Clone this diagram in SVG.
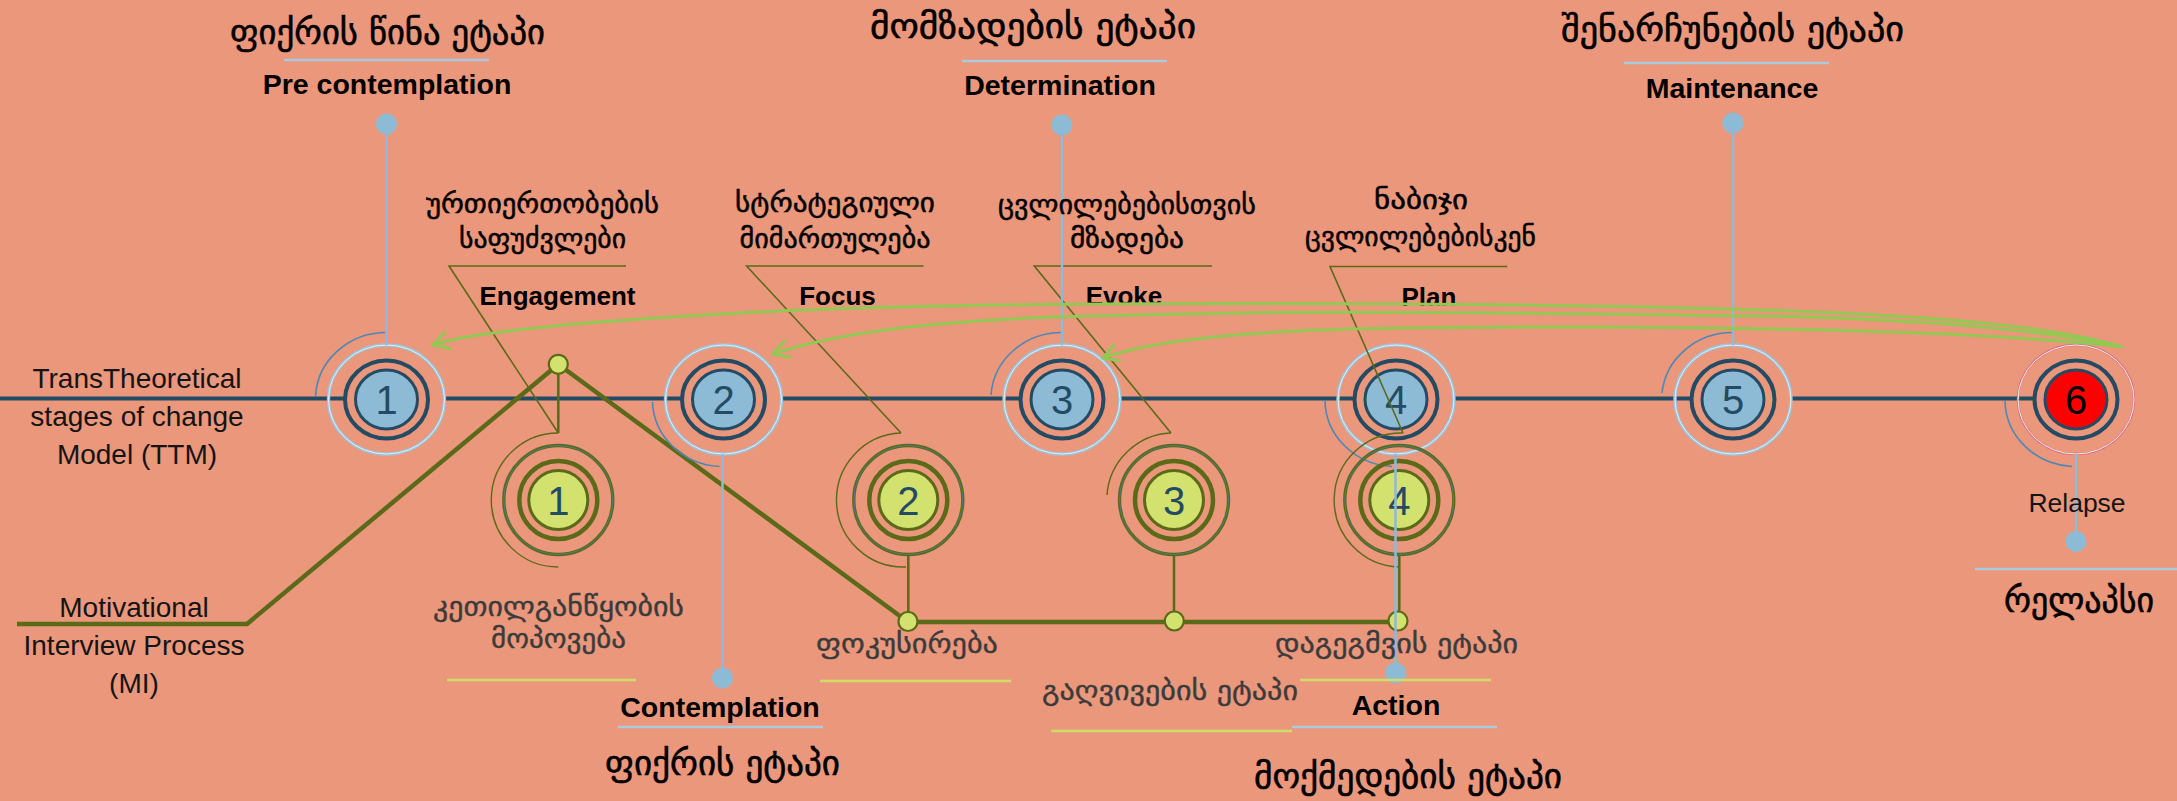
<svg xmlns="http://www.w3.org/2000/svg" width="2177" height="801" viewBox="0 0 2177 801">
<defs>
<style>
.bg{fill:#eb977b}
.ttm-line{stroke:#244b64;stroke-width:4;fill:none}
.mi-line{stroke:#5b6a19;stroke-width:4.5;fill:none;stroke-linejoin:round}
.mi-stub{stroke:#5b6a19;stroke-width:2.5;fill:none}
.callout{stroke:#5b6a19;stroke-width:1.6;fill:none}
.outer{fill:none;stroke:#9cc3da;stroke-width:3.4}
.outer-r{fill:none;stroke:#e0707c;stroke-width:2.4}
.outer-hl{fill:none;stroke:#e6eef2;stroke-width:1}
.ring{fill:none;stroke:#244b64;stroke-width:4}
.core{fill:#8dbbd6;stroke:#244b64;stroke-width:3}
.core-r{fill:#ff0000;stroke:#244b64;stroke-width:3}
.arc-b{fill:none;stroke:#4a88b8;stroke-width:1.6}
.mi-outer{fill:none;stroke:#5b6a19;stroke-width:3.4}
.mi-outer-hl{fill:none;stroke:#4f7a86;stroke-width:1}
.mi-ring{fill:none;stroke:#5b6a19;stroke-width:4.5}
.mi-core{fill:#d3e16f;stroke:#5b6a19;stroke-width:3}
.arc-o{fill:none;stroke:#5b6a19;stroke-width:1.4}
.node{fill:#d3e16f;stroke:#5b6a19;stroke-width:2.2}
.conn{stroke:#8dbbd6;stroke-width:2.5;fill:none}
.dot{fill:#8dbbd6}
.sep-b{stroke:#a9cadf;stroke-width:2.5}
.sep-y{stroke:#cfdd68;stroke-width:2.5}
.num{font-family:'Liberation Sans',sans-serif;font-size:40px;fill:#244b64;text-anchor:middle}
.num6{font-family:'Liberation Sans',sans-serif;font-size:40px;fill:#000;text-anchor:middle}
.en-b{font-family:'Liberation Sans',sans-serif;font-weight:bold;font-size:28.5px;fill:#000;text-anchor:middle}
.en-m{font-family:'Liberation Sans',sans-serif;font-weight:bold;font-size:26px;fill:#000;text-anchor:middle}
.en{font-family:'Liberation Sans',sans-serif;font-size:28px;fill:#141414;text-anchor:middle}
.ka-t{font-family:'DejaVu Sans',sans-serif;font-size:35px;fill:#000;stroke:#000;stroke-width:0.6;text-anchor:middle}
.ka-m{font-family:'DejaVu Sans',sans-serif;font-size:28px;fill:#000;stroke:#000;stroke-width:0.5;text-anchor:middle}
.ka-g{font-family:'DejaVu Sans',sans-serif;font-size:28px;fill:#3b3b3b;stroke:#3b3b3b;stroke-width:0.4;text-anchor:middle}
.arrow{fill:none;stroke:#92c853;stroke-width:3}
</style>
<marker id="ah" markerUnits="userSpaceOnUse" markerWidth="22" markerHeight="22" viewBox="0 0 22 22" refX="20" refY="11" orient="auto">
<path d="M4,2 L20,11 L4,20" fill="none" stroke="#92c853" stroke-width="3"/>
</marker>
</defs>
<rect class="bg" x="0" y="0" width="2177" height="801"/>

<g id="connectors">
<g id="ttm-line">
<line class="ttm-line" x1="0" y1="398.5" x2="346" y2="398.5"/>
<line class="ttm-line" x1="445" y1="398.5" x2="682" y2="398.5"/>
<line class="ttm-line" x1="781.5" y1="398.5" x2="1021" y2="398.5"/>
<line class="ttm-line" x1="1120" y1="398.5" x2="1355" y2="398.5"/>
<line class="ttm-line" x1="1454" y1="398.5" x2="1692" y2="398.5"/>
<line class="ttm-line" x1="1791" y1="398.5" x2="2035" y2="398.5"/>
</g>
<g id="mi-line">
<path class="mi-line" d="M17,624 L247,624 L558.3,364.3 L908,622 L1398,622"/>
<line class="mi-stub" x1="558.3" y1="364" x2="558.3" y2="433"/>
<line class="mi-stub" x1="908.3" y1="555" x2="908.3" y2="622"/>
<line class="mi-stub" x1="1174" y1="555" x2="1174" y2="622"/>
<line class="mi-stub" x1="1399.3" y1="555" x2="1399.3" y2="622"/>
</g>
</g>

<g id="ttm1">
<ellipse class="outer" cx="386.5" cy="399.5" rx="58" ry="54.5"/><ellipse class="outer-hl" cx="386.5" cy="399.5" rx="58" ry="54.5"/>
<ellipse class="ring" cx="386.5" cy="399.5" rx="41.5" ry="39"/>
<ellipse class="core" cx="386.5" cy="399.5" rx="31" ry="29.5"/>
<path class="arc-b" d="M315.5,396 A71,67 0 0 1 386.5,332.5"/>
<text class="num" x="386.5" y="414">1</text>
</g>
<g id="ttm2">
<ellipse class="outer" cx="723.5" cy="399.5" rx="58" ry="54.5"/><ellipse class="outer-hl" cx="723.5" cy="399.5" rx="58" ry="54.5"/>
<ellipse class="ring" cx="723.5" cy="399.5" rx="41.5" ry="39"/>
<ellipse class="core" cx="723.5" cy="399.5" rx="31" ry="29.5"/>
<path class="arc-b" d="M652.5,402 A71,67 0 0 0 719.5,466.5"/>
<text class="num" x="723.5" y="414">2</text>
</g>
<g id="ttm3">
<ellipse class="outer" cx="1062" cy="399.5" rx="58" ry="54.5"/><ellipse class="outer-hl" cx="1062" cy="399.5" rx="58" ry="54.5"/>
<ellipse class="ring" cx="1062" cy="399.5" rx="41.5" ry="39"/>
<ellipse class="core" cx="1062" cy="399.5" rx="31" ry="29.5"/>
<path class="arc-b" d="M991,395 A71,67 0 0 1 1062,332.5"/>
<text class="num" x="1062" y="414">3</text>
</g>
<g id="ttm4">
<ellipse class="outer" cx="1396" cy="399.5" rx="58" ry="54.5"/><ellipse class="outer-hl" cx="1396" cy="399.5" rx="58" ry="54.5"/>
<ellipse class="ring" cx="1396" cy="399.5" rx="41.5" ry="39"/>
<ellipse class="core" cx="1396" cy="399.5" rx="31" ry="29.5"/>
<path class="arc-b" d="M1325,400 A71,67 0 0 0 1392,466.5"/>
<text class="num" x="1396" y="414">4</text>
</g>
<g id="ttm5">
<ellipse class="outer" cx="1733" cy="399.5" rx="58" ry="54.5"/><ellipse class="outer-hl" cx="1733" cy="399.5" rx="58" ry="54.5"/>
<ellipse class="ring" cx="1733" cy="399.5" rx="41.5" ry="39"/>
<ellipse class="core" cx="1733" cy="399.5" rx="31" ry="29.5"/>
<path class="arc-b" d="M1662,393 A71,67 0 0 1 1733,332.5"/>
<text class="num" x="1733" y="414">5</text>
</g>
<g id="ttm6">
<ellipse class="outer-r" cx="2076" cy="399.5" rx="58" ry="54.5"/><ellipse class="outer-hl" cx="2076" cy="399.5" rx="58" ry="54.5"/>
<ellipse class="ring" cx="2076" cy="399.5" rx="41.5" ry="39"/>
<ellipse class="core-r" cx="2076" cy="399.5" rx="31" ry="29.5"/>
<path class="arc-b" d="M2005,401 A71,67 0 0 0 2072,466.5"/>
<text class="num6" x="2076" y="414">6</text>
</g>

<g id="callouts">
<path class="callout" d="M626,266 L449,266 L558.3,433"/>
<path class="callout" d="M923.5,266 L746.6,266 L901,433"/>
<path class="callout" d="M1212,266 L1034.3,266 L1171,433"/>
<path class="callout" d="M1507.3,266.5 L1330,266.5 L1403,433"/>
</g>

<g id="mi1">
<path class="arc-o" d="M558.3,433 A67,67 0 0 0 558.3,567"/>
<circle class="mi-outer" cx="558.3" cy="500" r="54.5"/><circle class="mi-outer-hl" cx="558.3" cy="500" r="54.5"/>
<circle class="mi-ring" cx="558.3" cy="500" r="39"/>
<circle class="mi-core" cx="558.3" cy="500" r="29.5"/>
<text class="num" x="558.3" y="515">1</text>
</g>
<g id="mi2">
<path class="arc-o" d="M901,433 A67,67 0 0 0 906,567"/>
<circle class="mi-outer" cx="908.3" cy="500" r="54.5"/><circle class="mi-outer-hl" cx="908.3" cy="500" r="54.5"/>
<circle class="mi-ring" cx="908.3" cy="500" r="39"/>
<circle class="mi-core" cx="908.3" cy="500" r="29.5"/>
<text class="num" x="908.3" y="515">2</text>
</g>
<g id="mi3">
<path class="arc-o" d="M1171,433 A67,67 0 0 0 1107,495"/>
<circle class="mi-outer" cx="1174" cy="500" r="54.5"/><circle class="mi-outer-hl" cx="1174" cy="500" r="54.5"/>
<circle class="mi-ring" cx="1174" cy="500" r="39"/>
<circle class="mi-core" cx="1174" cy="500" r="29.5"/>
<text class="num" x="1174" y="515">3</text>
</g>
<g id="mi4">
<path class="arc-o" d="M1403,433 A67,67 0 0 0 1399.3,567"/>
<circle class="mi-outer" cx="1399.3" cy="500" r="54.5"/><circle class="mi-outer-hl" cx="1399.3" cy="500" r="54.5"/>
<circle class="mi-ring" cx="1399.3" cy="500" r="39"/>
<circle class="mi-core" cx="1399.3" cy="500" r="29.5"/>
<text class="num" x="1399.3" y="515">4</text>
</g>

<g id="mi-nodes">
<circle class="node" cx="558.3" cy="364.3" r="9.5"/>
<circle class="node" cx="908" cy="621.5" r="9.5"/>
<circle class="node" cx="1174.3" cy="621" r="9.5"/>
<circle class="node" cx="1398" cy="621" r="9.5"/>
</g>

<g id="stage-links">
<line class="conn" x1="386.5" y1="124" x2="386.5" y2="345"/><circle class="dot" cx="386.5" cy="124" r="10.5"/>
<line class="conn" x1="1062" y1="125" x2="1062" y2="345"/><circle class="dot" cx="1062" cy="125" r="10.5"/>
<line class="conn" x1="1733" y1="123" x2="1733" y2="345"/><circle class="dot" cx="1733" cy="123" r="10.5"/>
<line class="conn" x1="722.5" y1="454" x2="722.5" y2="678"/><circle class="dot" cx="722.5" cy="678" r="10.5"/>
<line class="conn" x1="1395.5" y1="454" x2="1395.5" y2="673"/><circle class="dot" cx="1395.5" cy="673" r="10.5"/>
<line class="conn" x1="2076" y1="454" x2="2076" y2="541"/><circle class="dot" cx="2076" cy="541.5" r="10.5"/>
</g>

<g id="label-left">
<text class="en" x="137" y="388">TransTheoretical</text>
<text class="en" x="137" y="426">stages of change</text>
<text class="en" x="137" y="464">Model (TTM)</text>
<text class="en" x="134" y="617">Motivational</text>
<text class="en" x="134" y="655">Interview Process</text>
<text class="en" x="134" y="693">(MI)</text>
</g>

<g id="label-precontemplation">
<text class="ka-t" x="387.5" y="44" textLength="315" lengthAdjust="spacingAndGlyphs">ფიქრის წინა ეტაპი</text>
<line class="sep-b" x1="284" y1="60" x2="489" y2="60"/>
<text class="en-b" x="387" y="94">Pre contemplation</text>
</g>
<g id="label-determination">
<text class="ka-t" x="1033" y="38" textLength="326" lengthAdjust="spacingAndGlyphs">მომზადების  ეტაპი</text>
<line class="sep-b" x1="962" y1="61" x2="1167" y2="61"/>
<text class="en-b" x="1060" y="95">Determination</text>
</g>
<g id="label-maintenance">
<text class="ka-t" x="1732.5" y="41" textLength="343" lengthAdjust="spacingAndGlyphs">შენარჩუნების ეტაპი</text>
<line class="sep-b" x1="1624" y1="63" x2="1829" y2="63"/>
<text class="en-b" x="1732" y="98">Maintenance</text>
</g>
<g id="label-contemplation">
<text class="en-b" x="720" y="717">Contemplation</text>
<line class="sep-b" x1="618" y1="727" x2="823" y2="727"/>
<text class="ka-t" x="722.5" y="775" textLength="235" lengthAdjust="spacingAndGlyphs">ფიქრის ეტაპი</text>
</g>
<g id="label-action">
<text class="en-b" x="1396" y="715">Action</text>
<line class="sep-b" x1="1292" y1="727" x2="1497" y2="727"/>
<text class="ka-t" x="1408" y="788" textLength="308" lengthAdjust="spacingAndGlyphs">მოქმედების ეტაპი</text>
</g>
<g id="label-relapse">
<text class="en" x="2077" y="512" style="font-size:26.5px">Relapse</text>
<line class="sep-b" x1="1975" y1="569" x2="2177" y2="569"/>
<text class="ka-t" x="2079" y="612" textLength="150" lengthAdjust="spacingAndGlyphs">რელაპსი</text>
</g>

<g id="label-engagement">
<text class="ka-m" x="542.5" y="213" textLength="233" lengthAdjust="spacingAndGlyphs">ურთიერთობების</text>
<text class="ka-m" x="542.5" y="248" textLength="167" lengthAdjust="spacingAndGlyphs">საფუძვლები</text>
<text class="en-m" x="557.5" y="305">Engagement</text>
<text class="ka-g" x="558.5" y="616" textLength="251" lengthAdjust="spacingAndGlyphs">კეთილგანწყობის</text>
<text class="ka-g" x="558.5" y="648" textLength="135" lengthAdjust="spacingAndGlyphs">მოპოვება</text>
<line class="sep-y" x1="447" y1="680" x2="636" y2="680"/>
</g>
<g id="label-focus">
<text class="ka-m" x="835" y="212" textLength="200" lengthAdjust="spacingAndGlyphs">სტრატეგიული</text>
<text class="ka-m" x="835" y="248" textLength="191" lengthAdjust="spacingAndGlyphs">მიმართულება</text>
<text class="en-m" x="837.5" y="305">Focus</text>
<text class="ka-g" x="907" y="653" textLength="182" lengthAdjust="spacingAndGlyphs">ფოკუსირება</text>
<line class="sep-y" x1="820" y1="681" x2="1011" y2="681"/>
</g>
<g id="label-evoke">
<text class="ka-m" x="1127" y="214" textLength="258" lengthAdjust="spacingAndGlyphs">ცვლილებებისთვის</text>
<text class="ka-m" x="1127" y="248" textLength="114" lengthAdjust="spacingAndGlyphs">მზადება</text>
<text class="en-m" x="1124" y="305">Evoke</text>
<text class="ka-g" x="1170" y="700" textLength="256" lengthAdjust="spacingAndGlyphs">გაღვივების ეტაპი</text>
<line class="sep-y" x1="1051" y1="731" x2="1292" y2="731"/>
</g>
<g id="label-plan">
<text class="ka-m" x="1421" y="209" textLength="94" lengthAdjust="spacingAndGlyphs">ნაბიჯი</text>
<text class="ka-m" x="1420.5" y="246" textLength="231" lengthAdjust="spacingAndGlyphs">ცვლილებებისკენ</text>
<text class="en-m" x="1429" y="306">Plan</text>
<text class="ka-g" x="1396.5" y="653" textLength="243" lengthAdjust="spacingAndGlyphs">დაგეგმვის ეტაპი</text>
<line class="sep-y" x1="1300" y1="680" x2="1491" y2="680"/>
</g>

<g id="relapse-arrows">
<path class="arrow" marker-end="url(#ah)" d="M2123,347 C2060,328 1950,316 1763,310 C1500,302 1000,300 760,312 C620,319 480,330 433,345"/>
<path class="arrow" marker-end="url(#ah)" d="M2123,347 C2050,332 1950,320 1763,316 C1550,313 1350,311 1240,313 C1050,316 880,318 773,354"/>
<path class="arrow" marker-end="url(#ah)" d="M2123,347 C2000,333 1800,328 1600,327 C1400,327 1190,326 1103,358"/>
</g>
</svg>
